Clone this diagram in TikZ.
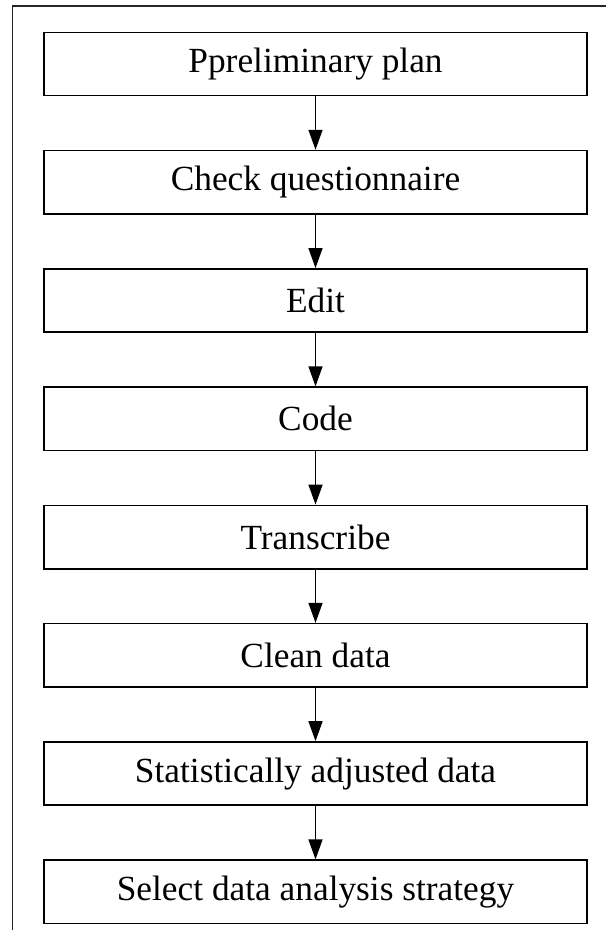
\documentclass[tikz,border=0pt]{standalone}
\usepackage{fontspec}
\setmainfont{Liberation Serif}
\usetikzlibrary{positioning,arrows.meta}

\begin{document}
\begin{tikzpicture}[
    x=0.75pt, y=0.75pt,
    >={Triangle[length=15pt,width=10.5pt]},
    every node/.style={font=\fontsize{26.5}{31}\selectfont},
    stagebox/.style={
        draw=black, line width=1.2pt,
        minimum width=407pt, minimum height=47.5pt,
        inner sep=0pt, align=center
    },
    arr/.style={->, line width=1.1pt},
    frameline/.style={line width=1.1pt, draw=black!85},
]
\useasboundingbox (0,0) rectangle (606,930);

% === Outer frame (top and left only) ===
\coordinate (frametop) at (12.5,924);
\draw[frameline] (606,924) -- (frametop) -- (12.5,0);

% === Stages ===
\node[stagebox] at (315.5,866) (plan) {Ppreliminary plan};
\node[stagebox, below=40pt of plan] (check) {Check questionnaire};
\node[stagebox, below=40pt of check] (edit) {Edit};
\node[stagebox, below=40pt of edit] (code) {Code};
\node[stagebox, below=40pt of code] (transcribe) {Transcribe};
\node[stagebox, below=40pt of transcribe] (clean) {Clean data};
\node[stagebox, below=40pt of clean] (adjust) {Statistically adjusted data};
\node[stagebox, below=40pt of adjust] (select) {Select data analysis strategy};

% === Arrows ===
\foreach \a/\b in {plan/check, check/edit, edit/code, code/transcribe,
    transcribe/clean, clean/adjust, adjust/select}
    \draw[arr] (\a.south) -- (\b.north);

\end{tikzpicture}
\end{document}
